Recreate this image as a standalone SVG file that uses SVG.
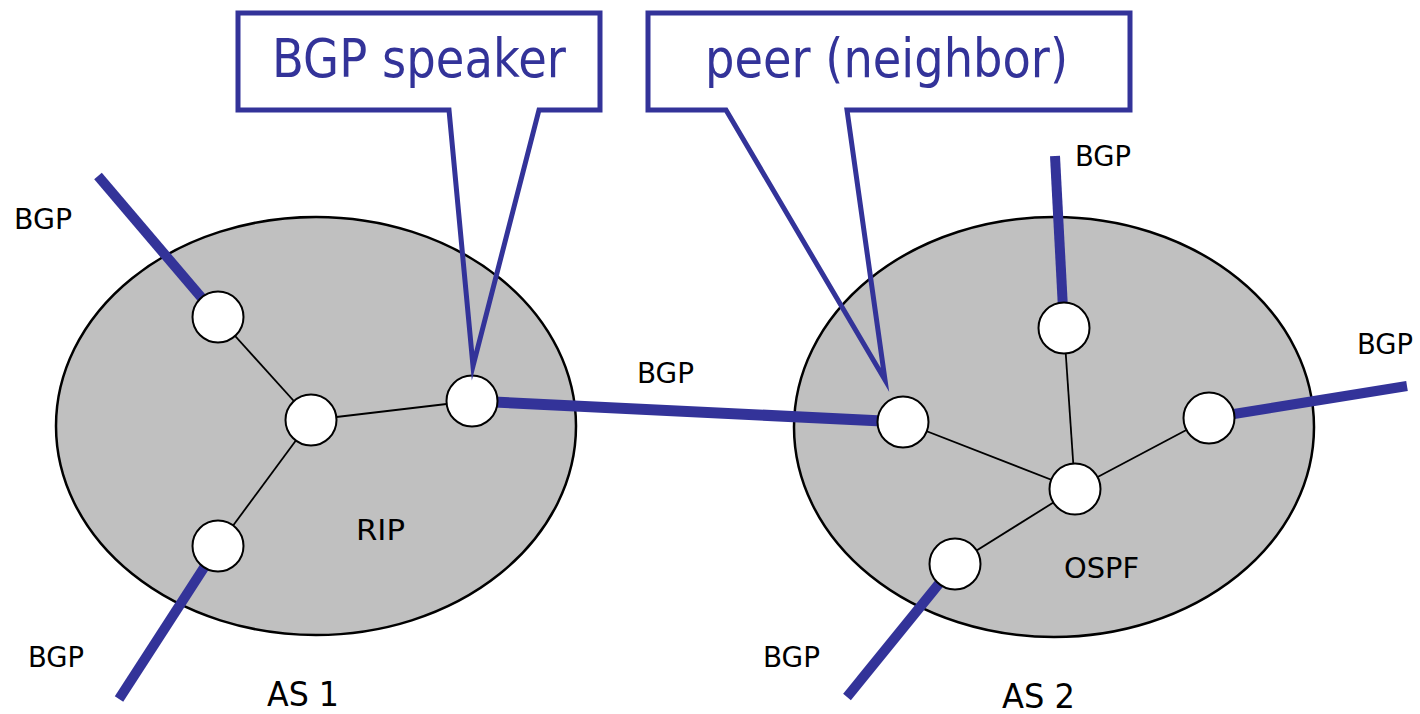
<svg xmlns="http://www.w3.org/2000/svg" width="1420" height="714" viewBox="0 0 1420 714">
<style>
.as{fill:#c0c0c0;stroke:#000;stroke-width:2.5}
.nd{fill:#fff;stroke:#000;stroke-width:2}
.thin{stroke:#000;stroke-width:1.8;fill:none}
.bgp{stroke:#333399;stroke-width:10;fill:none}
.lbl{font-family:"DejaVu Sans",sans-serif;font-size:29px;fill:#000}
.big{font-family:"DejaVu Sans",sans-serif;font-size:34px;fill:#000}
.cbox{fill:#fff;stroke:none}
.cline{fill:none;stroke:#333399;stroke-width:5;stroke-linejoin:miter;stroke-miterlimit:10}
.ctext{font-family:"DejaVu Sans",sans-serif;font-size:53px;fill:#333399}
</style>
<rect width="1420" height="714" fill="#fff"/>
<g id="as1">
<ellipse class="as" cx="316" cy="426" rx="260" ry="209"/>
<text class="lbl" x="356" y="540" textLength="49" lengthAdjust="spacingAndGlyphs">RIP</text>
<text class="big" x="267" y="706" textLength="72" lengthAdjust="spacingAndGlyphs">AS 1</text>
</g>
<g id="as2">
<ellipse class="as" cx="1054" cy="427" rx="260" ry="210"/>
<text class="lbl" x="1064" y="578" textLength="75" lengthAdjust="spacingAndGlyphs">OSPF</text>
<text class="big" x="1002" y="708" textLength="73" lengthAdjust="spacingAndGlyphs">AS 2</text>
</g>
<g id="connectors">
<line class="thin" x1="218" y1="317" x2="311" y2="420"/>
<line class="thin" x1="311" y1="420" x2="472" y2="401"/>
<line class="thin" x1="311" y1="420" x2="218" y2="546"/>
<line class="thin" x1="903" y1="422" x2="1075" y2="489"/>
<line class="thin" x1="1064" y1="328" x2="1075" y2="489"/>
<line class="thin" x1="1209" y1="418" x2="1075" y2="489"/>
<line class="thin" x1="955" y1="564" x2="1075" y2="489"/>
<line class="bgp" x1="98" y1="176" x2="218" y2="317"/>
<line class="bgp" x1="218" y1="546" x2="119" y2="699"/>
<line class="bgp" x1="472" y1="401" x2="903" y2="422" style="stroke-width:11"/>
<line class="bgp" x1="1055" y1="156" x2="1064" y2="328"/>
<line class="bgp" x1="1209" y1="418" x2="1407" y2="386"/>
<line class="bgp" x1="955" y1="564" x2="847" y2="697"/>
</g>
<g id="labels">
<text class="lbl" x="14" y="229" textLength="58" lengthAdjust="spacingAndGlyphs">BGP</text>
<text class="lbl" x="1075" y="166" textLength="56" lengthAdjust="spacingAndGlyphs">BGP</text>
<text class="lbl" x="1357" y="354" textLength="56" lengthAdjust="spacingAndGlyphs">BGP</text>
<text class="lbl" x="637" y="383" textLength="57" lengthAdjust="spacingAndGlyphs">BGP</text>
<text class="lbl" x="28" y="667" textLength="56" lengthAdjust="spacingAndGlyphs">BGP</text>
<text class="lbl" x="763" y="667" textLength="57" lengthAdjust="spacingAndGlyphs">BGP</text>
</g>
<g id="routers">
<circle class="nd" cx="218" cy="317" r="25.5"/>
<circle class="nd" cx="311" cy="420" r="25.5"/>
<circle class="nd" cx="472" cy="401" r="25.5"/>
<circle class="nd" cx="218" cy="546" r="25.5"/>
<circle class="nd" cx="903" cy="422" r="25.5"/>
<circle class="nd" cx="1064" cy="328" r="25.5"/>
<circle class="nd" cx="1209" cy="418" r="25.5"/>
<circle class="nd" cx="1075" cy="489" r="25.5"/>
<circle class="nd" cx="955" cy="564" r="25.5"/>
</g>
<g id="callout-speaker">
<rect class="cbox" x="238" y="13" width="362" height="97"/>
<path class="cline" d="M449,110 L238,110 L238,13 L600,13 L600,110 L539,110 L473,366 Z"/>
<text class="ctext" x="272" y="77" textLength="294" lengthAdjust="spacingAndGlyphs">BGP speaker</text>
</g>
<g id="callout-peer">
<rect class="cbox" x="648" y="13" width="482" height="97"/>
<path class="cline" d="M726,110 L648,110 L648,13 L1130,13 L1130,110 L847,110 L885,380 Z"/>
<text class="ctext" x="705" y="77" textLength="363" lengthAdjust="spacingAndGlyphs">peer (neighbor)</text>
</g>
</svg>
